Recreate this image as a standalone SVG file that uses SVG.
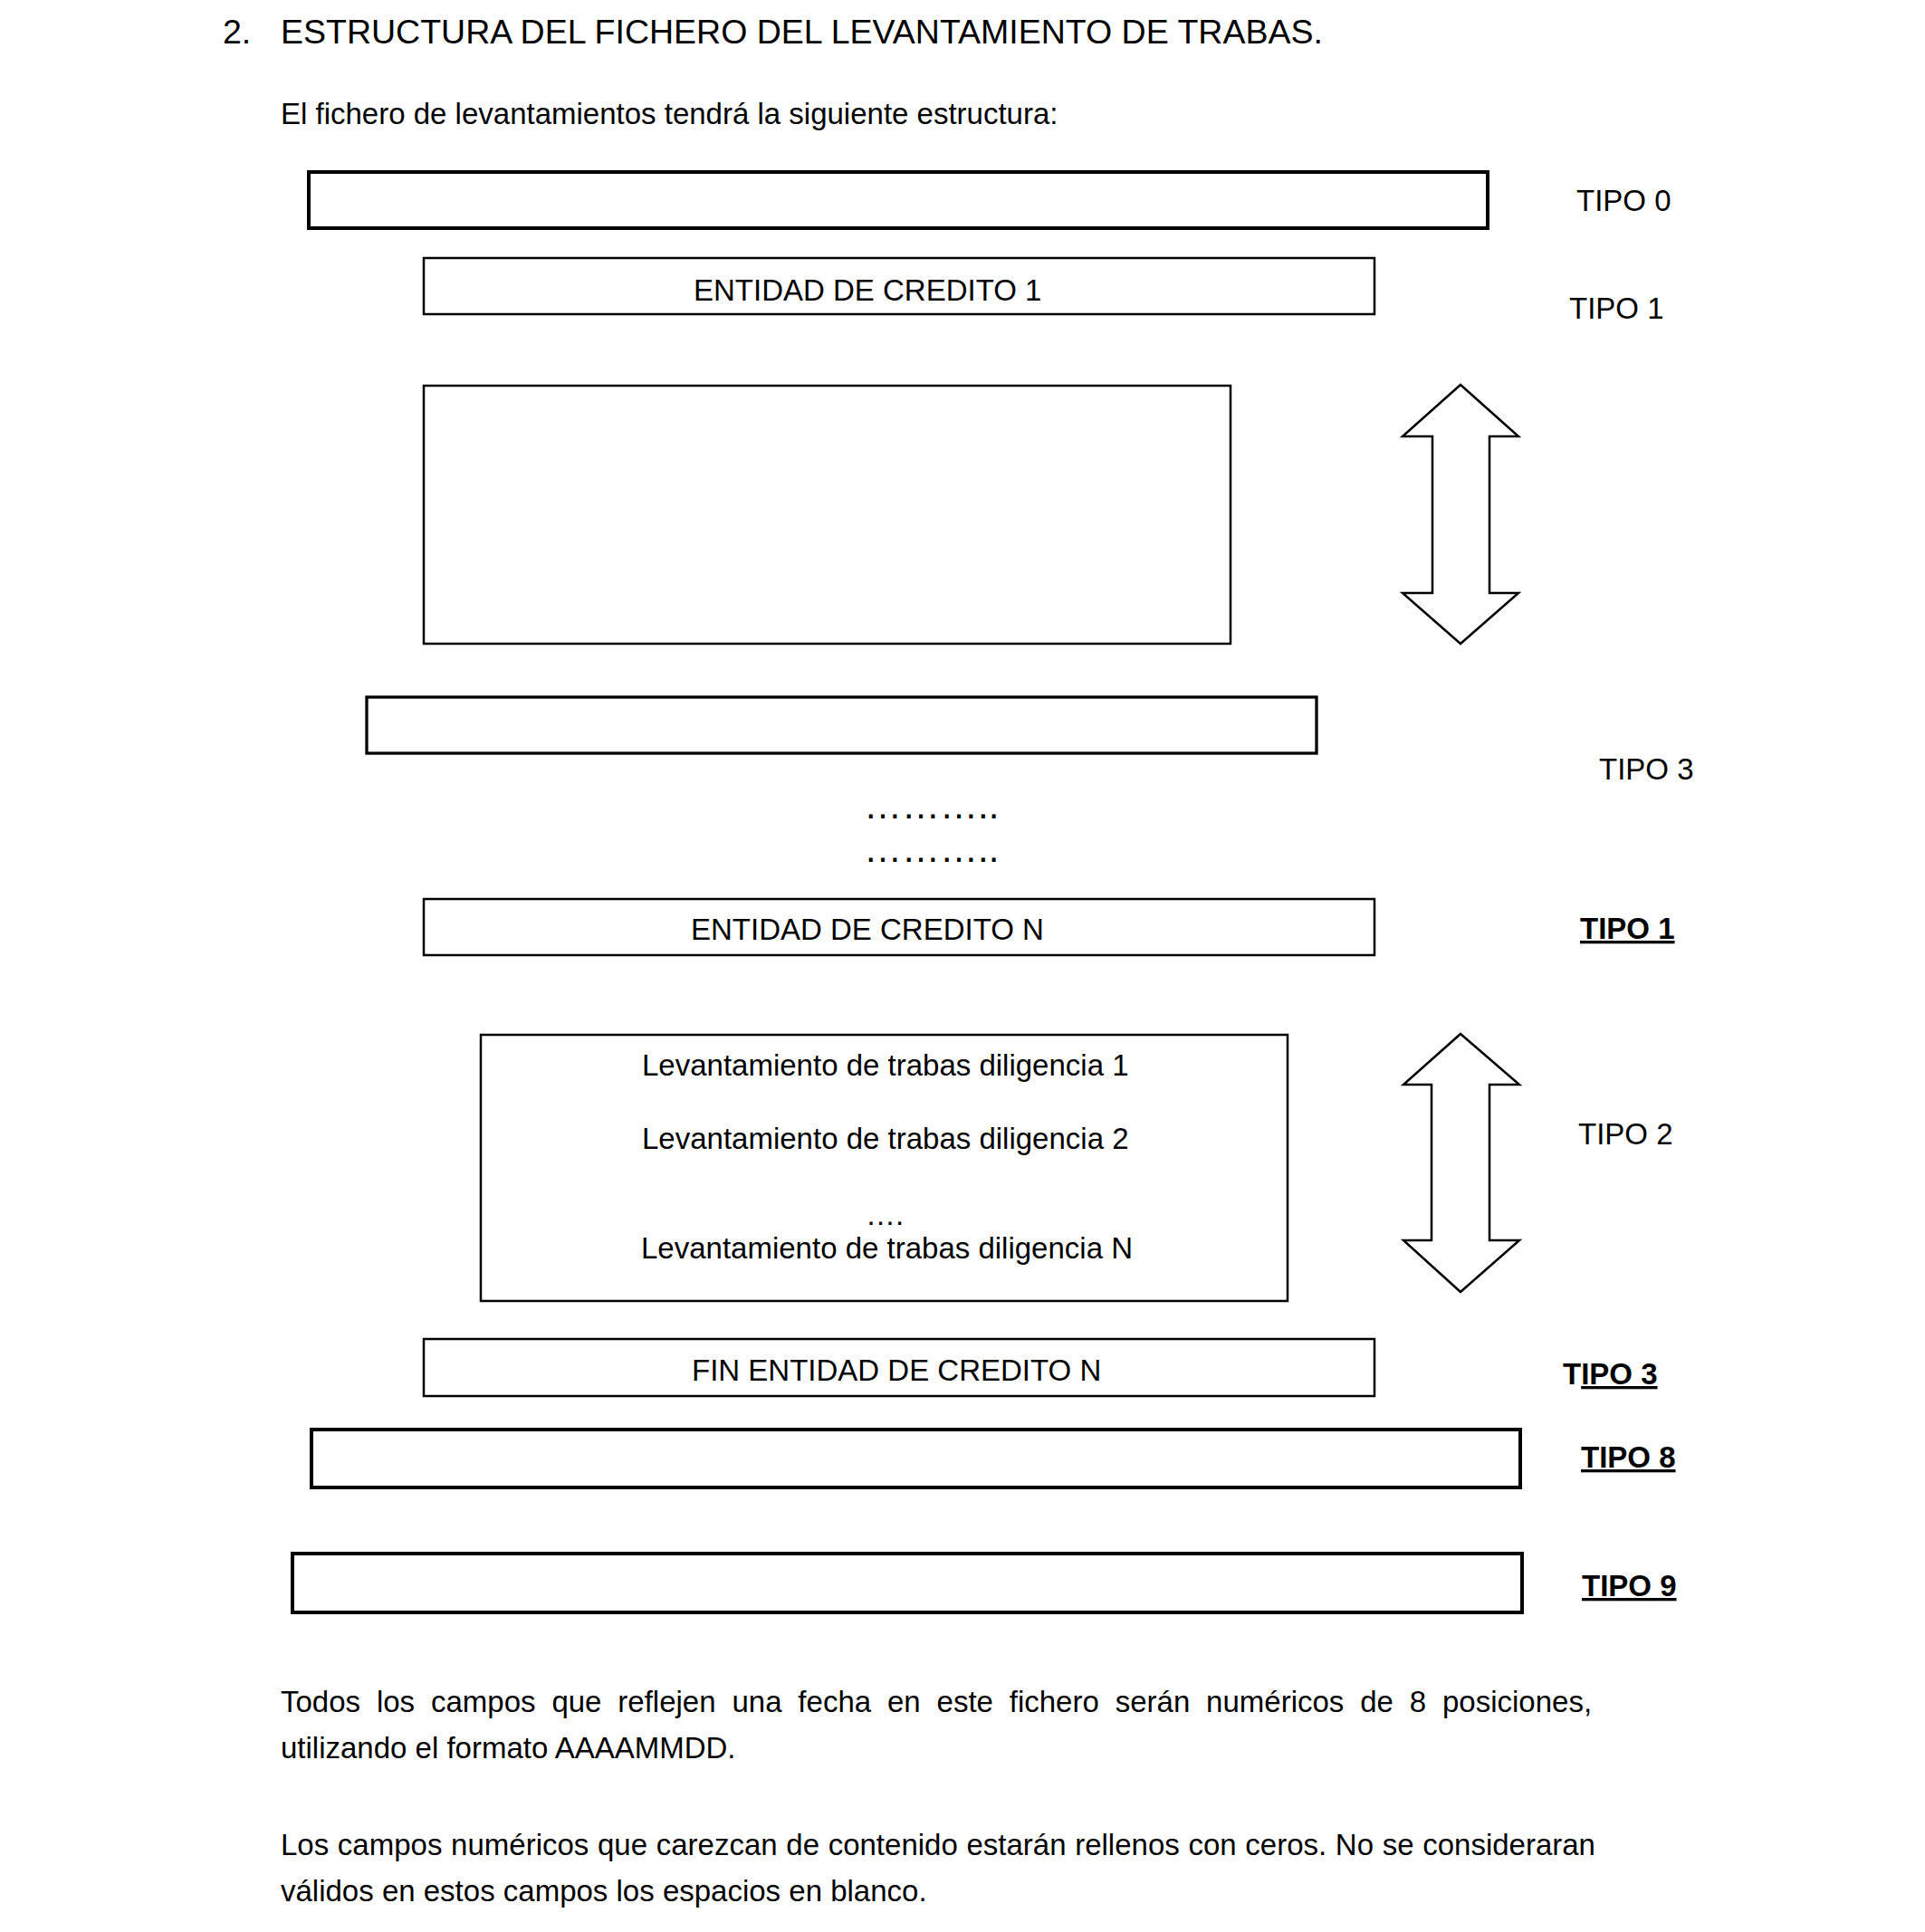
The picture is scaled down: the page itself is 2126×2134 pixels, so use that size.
<svg xmlns="http://www.w3.org/2000/svg" width="2126" height="2134" viewBox="0 0 2126 2134">
<style>
text{font-family:"Liberation Sans",Arial,sans-serif;font-size:33px;fill:#000}
.title{font-size:37.5px}
.bold{font-weight:bold}
.u{text-decoration:underline}
.thick{fill:#fff;stroke:#000;stroke-width:4}
.mid{fill:#fff;stroke:#000;stroke-width:3.3}
.thin{fill:#fff;stroke:#000;stroke-width:2.5}
.arrow{fill:#fff;stroke:#000;stroke-width:2.5;stroke-linejoin:miter}
</style>
<rect width="2126" height="2134" fill="#fff"/>
<g id="heading">
<text class="title" x="246" y="48">2.</text>
<text class="title" x="310" y="48">ESTRUCTURA DEL FICHERO DEL LEVANTAMIENTO DE TRABAS.</text>
<text x="310" y="137">El fichero de levantamientos tendrá la siguiente estructura:</text>
</g>
<g id="tipo0">
<rect class="thick" x="341" y="190" width="1302" height="62"/>
<text x="1741" y="233">TIPO 0</text>
</g>
<g id="entidad1">
<rect class="thin" x="468" y="285" width="1050" height="62"/>
<text x="766" y="332">ENTIDAD DE CREDITO 1</text>
<text x="1733" y="352">TIPO 1</text>
</g>
<g id="bloque1">
<rect class="thin" x="468" y="426" width="891" height="285"/>
</g>
<g id="fin1">
<rect class="mid" x="405" y="770" width="1049" height="62"/>
<text x="1766" y="861">TIPO 3</text>
</g>
<g id="puntos">
<text x="954" y="904" style="font-size:42px">………..</text>
<text x="954" y="952" style="font-size:42px">………..</text>
</g>
<g id="entidadN">
<rect class="thin" x="468" y="993" width="1050" height="62"/>
<text x="763" y="1038">ENTIDAD DE CREDITO N</text>
<text class="bold u" x="1745" y="1037">TIPO 1</text>
</g>
<g id="diligencias">
<rect class="thin" x="531" y="1143" width="891" height="294"/>
<text x="709" y="1188">Levantamiento de trabas diligencia 1</text>
<text x="709" y="1269">Levantamiento de trabas diligencia 2</text>
<text x="956" y="1353">….</text>
<text x="708" y="1390">Levantamiento de trabas diligencia N</text>
<text x="1743" y="1264">TIPO 2</text>
</g>
<g id="finN">
<rect class="thin" x="468" y="1479" width="1050" height="63"/>
<text x="764" y="1525">FIN ENTIDAD DE CREDITO N</text>
<text class="bold" x="1726" y="1529">T<tspan class="u">IPO 3</tspan></text>
</g>
<g id="tipo8">
<rect class="thick" x="344" y="1579" width="1335" height="64"/>
<text class="bold u" x="1746" y="1621">TIPO 8</text>
</g>
<g id="tipo9">
<rect class="thick" x="323" y="1716" width="1358" height="65"/>
<text class="bold u" x="1747" y="1763">TIPO 9</text>
</g>
<g id="connectors">
<polygon class="arrow" points="1613,425 1677,482 1645,482 1645,655 1677,655 1613,711 1549,655 1582,655 1582,482 1549,482"/>
<polygon class="arrow" points="1613,1142 1678,1198 1645,1198 1645,1370 1678,1370 1613,1427 1550,1370 1581,1370 1581,1198 1550,1198"/>
</g>
<g id="notas">
<text x="310" y="1891" word-spacing="8.7">Todos los campos que reflejen una fecha en este fichero serán numéricos de 8 posiciones,</text>
<text x="310" y="1942">utilizando el formato AAAAMMDD.</text>
<text x="310" y="2049" word-spacing="0.5">Los campos numéricos que carezcan de contenido estarán rellenos con ceros. No se consideraran</text>
<text x="310" y="2100">válidos en estos campos los espacios en blanco.</text>
</g>
</svg>
